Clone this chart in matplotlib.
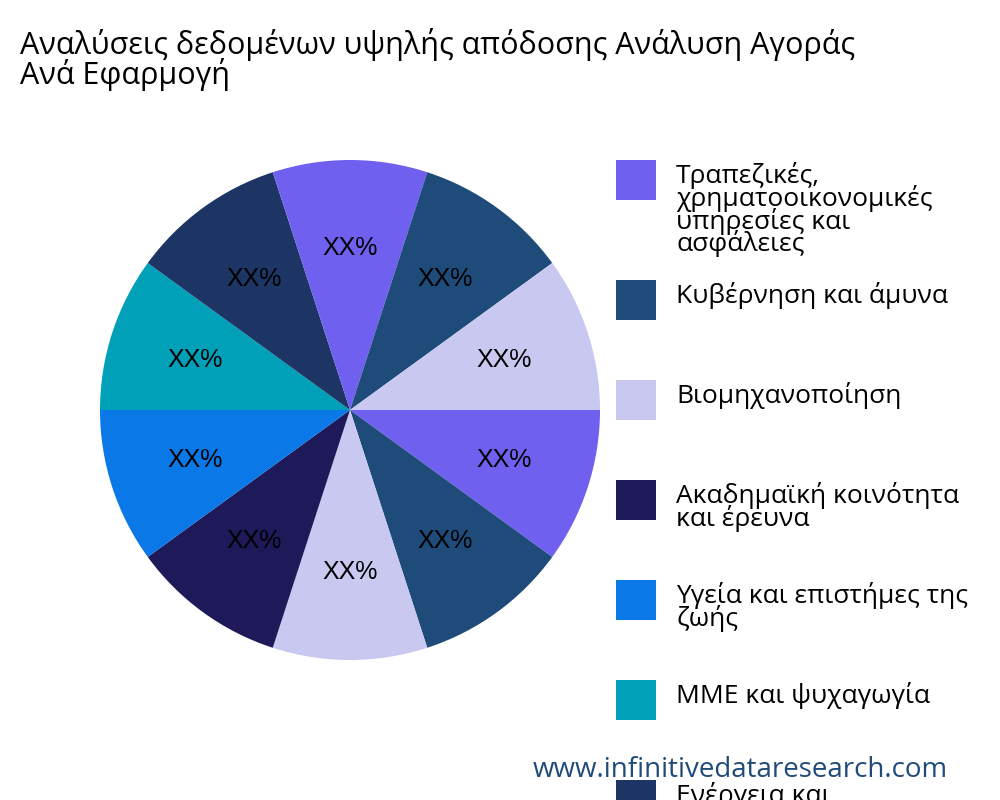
import matplotlib
matplotlib.use("Agg")
import matplotlib.pyplot as plt
from matplotlib.patches import Rectangle

categories = ["Τραπεζικές,\nχρηματοοικονομικές\nυπηρεσίες και\nασφάλειες",
              "Κυβέρνηση και άμυνα", "Βιομηχανοποίηση",
              "Ακαδημαϊκή κοινότητα\nκαι έρευνα", "Υγεία και επιστήμες της\nζωής",
              "ΜΜΕ και ψυχαγωγία", "Ενέργεια και\nκοινή ωφέλεια",
              "Λιανική", "Τηλεπικοινωνίες", "Άλλοι"]
values = [10, 10, 10, 10, 10, 10, 10, 10, 10, 10]
palette = ["#7060F0", "#1F4B7A", "#C8C8F0", "#1E1A5A", "#0A78E6", "#00A0B8", "#1C3564"]
colors = [palette[i % len(palette)] for i in range(len(values))]

fig = plt.figure(figsize=(10, 8), dpi=100)
ax = fig.add_axes([0.1, 0.175, 0.5, 0.625])
ax.pie(values, colors=colors, startangle=0, counterclock=False,
       labels=None, autopct=lambda p: "XX%", pctdistance=0.65,
       textprops=dict(fontsize=18, family="Liberation Sans", color="black"))
ax.set_xlim(-1, 1)
ax.set_ylim(-1, 1)
ax.set_aspect("equal")

fig.text(0.02, 0.965, "Αναλύσεις δεδομένων υψηλής απόδοσης Ανάλυση Αγοράς\nΑνά Εφαρμογή",
         fontsize=22, family="Open Sans", va="top", ha="left", linespacing=0.9)

centers = [180, 300, 400, 500, 600, 700, 800, 900, 1000, 1100]
for i, lab in enumerate(categories[:7]):
    yc = centers[i]
    fig.patches.append(Rectangle((616 / 1000, 1 - (yc + 20) / 800), 40 / 1000, 40 / 800,
                                 transform=fig.transFigure, facecolor=colors[i]))
    fig.text(676 / 1000, 1 - (yc - 18) / 800, lab, fontsize=19, family="Open Sans",
             va="top", ha="left", linespacing=0.8)

fig.text(0.74, 0.038, "www.infinitivedataresearch.com", fontsize=20, family="Open Sans",
         color="#1F4B7A", ha="center", va="center")
fig.savefig("out.png")
